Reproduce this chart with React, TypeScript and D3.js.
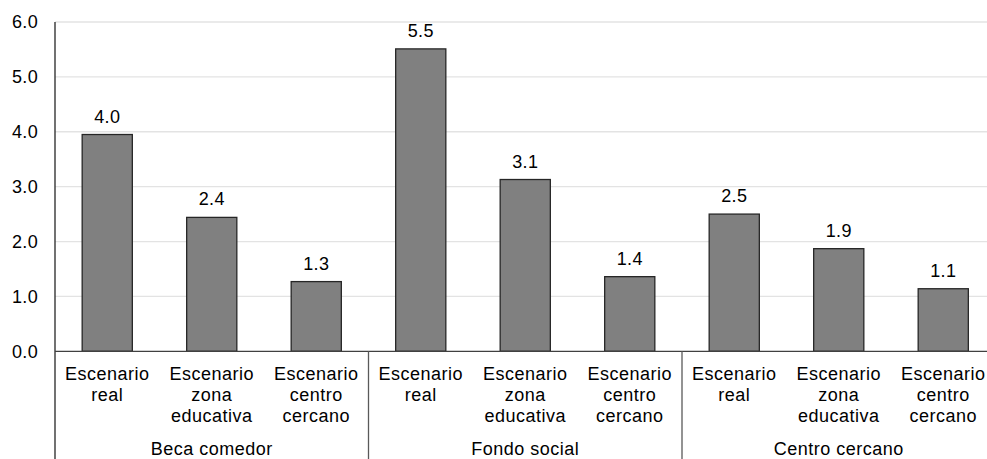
import React from "react";
import * as d3 from "d3";

const groups = ["Beca comedor", "Fondo social", "Centro cercano"];
const scenarios = [["Escenario", "real"], ["Escenario", "zona", "educativa"], ["Escenario", "centro", "cercano"]];
const values = [3.95, 2.44, 1.27, 5.51, 3.13, 1.36, 2.5, 1.87, 1.14];
const yTicks = [0, 1, 2, 3, 4, 5, 6];

const W = 987, H = 459;
const left = 55, right = 995.5, top = 22, bottom = 351.3;
const font = "'Liberation Sans', Arial, sans-serif";

export default function App() {
  const y = d3.scaleLinear().domain([0, 6]).range([bottom, top]);
  const idx = values.map((_, i) => String(i));
  const x = d3.scaleBand().domain(idx).range([left, right]).paddingInner(0.52).paddingOuter(0.26);
  const gx = d3.scaleBand().domain(groups).range([left, right]);
  return (
    <svg width={W} height={H} style={{ position: "absolute", left: 0, top: 0, background: "#fff" }}>
      {yTicks.map(t => (
        <g key={t}>
          {t > 0 && <line x1={left} x2={right} y1={y(t)} y2={y(t)} stroke="#e3e3e3" strokeWidth={1.3} />}
          <text x={38} y={y(t)} dy="0.36em" textAnchor="end" fontFamily={font} fontSize={18} letterSpacing={0.3} fill="#000">{t.toFixed(1)}</text>
        </g>
      ))}
      {values.map((v, i) => {
        const bx = x(String(i))!;
        const bw = x.bandwidth();
        return (
          <g key={i}>
            <rect x={bx} y={y(v)} width={bw} height={bottom - y(v)} fill="#808080" stroke="#262626" strokeWidth={1.3} />
            <text x={bx + bw / 2} y={y(v) - 12} textAnchor="middle" fontFamily={font} fontSize={18} letterSpacing={0.3} fill="#000">{v.toFixed(1)}</text>
          </g>
        );
      })}
      <line x1={left} x2={left} y1={top} y2={H} stroke="#262626" strokeWidth={1.3} />
      <line x1={left} x2={right} y1={bottom} y2={bottom} stroke="#404040" strokeWidth={1.3} />
      {groups.map((g, gi) => {
        const g0 = gx(g)!;
        return (
          <g key={g}>
            {gi > 0 && <line x1={g0} x2={g0} y1={bottom} y2={H} stroke="#595959" strokeWidth={1.3} />}
            <text x={g0 + gx.bandwidth() / 2} y={455} textAnchor="middle" fontFamily={font} fontSize={18} letterSpacing={0.5} fill="#000">{g}</text>
            {scenarios.map((lines, si) => {
              const i = gi * 3 + si;
              const cx = x(String(i))! + x.bandwidth() / 2;
              return (
                <text key={si} x={cx} textAnchor="middle" fontFamily={font} fontSize={18} letterSpacing={0.5} fill="#000">
                  {lines.map((l, li) => <tspan key={li} x={cx} y={380 + li * 21}>{l}</tspan>)}
                </text>
              );
            })}
          </g>
        );
      })}
    </svg>
  );
}
